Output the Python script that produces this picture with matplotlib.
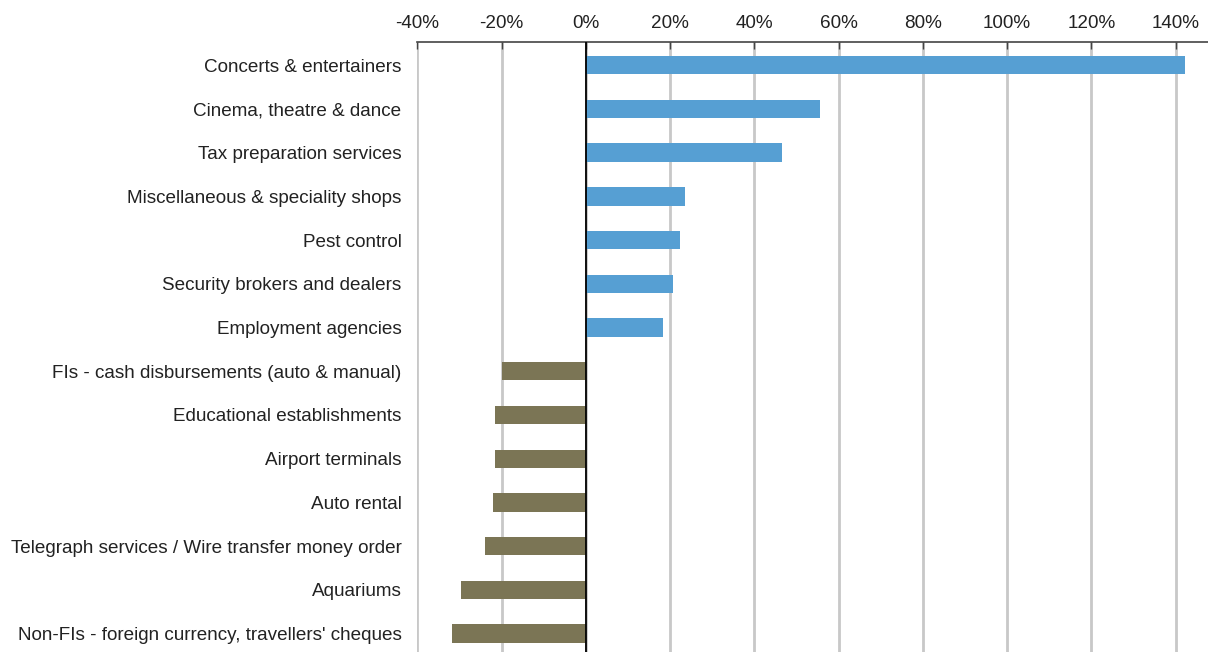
import numpy as np
import matplotlib.pyplot as plt
import matplotlib

matplotlib.rcParams['font.family'] = ['Liberation Sans', 'DejaVu Sans']

categories = [
    "Concerts & entertainers",
    "Cinema, theatre & dance",
    "Tax preparation services",
    "Miscellaneous & speciality shops",
    "Pest control",
    "Security brokers and dealers",
    "Employment agencies",
    "FIs - cash disbursements (auto & manual)",
    "Educational establishments",
    "Airport terminals",
    "Auto rental",
    "Telegraph services / Wire transfer money order",
    "Aquariums",
    "Non-FIs - foreign currency, travellers' cheques",
]
growth = [142.2, 55.5, 46.5, 23.5, 22.3, 20.8, 18.3,
          -20.0, -21.5, -21.5, -22.0, -24.0, -29.6, -31.7]
tick_values = [-40, -20, 0, 20, 40, 60, 80, 100, 120, 140]

fig = plt.figure(figsize=(12.08, 6.52), dpi=100)
ax = fig.add_axes([0.3455, 0.0, 0.6545, 0.9356])

y = np.arange(len(categories))
colors = ['#569FD3' if v >= 0 else '#7B7555' for v in growth]
ax.barh(y, growth, height=0.42, color=colors, zorder=3)

ax.set_xlim(-40, 147.7)
ax.set_ylim(13.42, -0.53)
ax.set_yticks(y)
ax.set_yticklabels(categories, fontsize=13.6, color='#222222')
ax.set_xticks(tick_values)
ax.set_xticklabels([f'{v}%' for v in tick_values], fontsize=13.6, color='#222222')

ax.xaxis.tick_top()
ax.tick_params(axis='x', direction='in', length=5, width=1, color='#444444', pad=7)
ax.tick_params(axis='y', length=0, pad=11.5)

ax.grid(axis='x', color='#C8C8C8', linewidth=2, zorder=0)
ax.axvline(0, color='black', linewidth=1.3, zorder=4)

for s in ['bottom', 'left', 'right']:
    ax.spines[s].set_visible(False)
ax.spines['top'].set_color('#444444')
ax.spines['top'].set_linewidth(1.2)

fig.savefig('out.png', dpi=100)
